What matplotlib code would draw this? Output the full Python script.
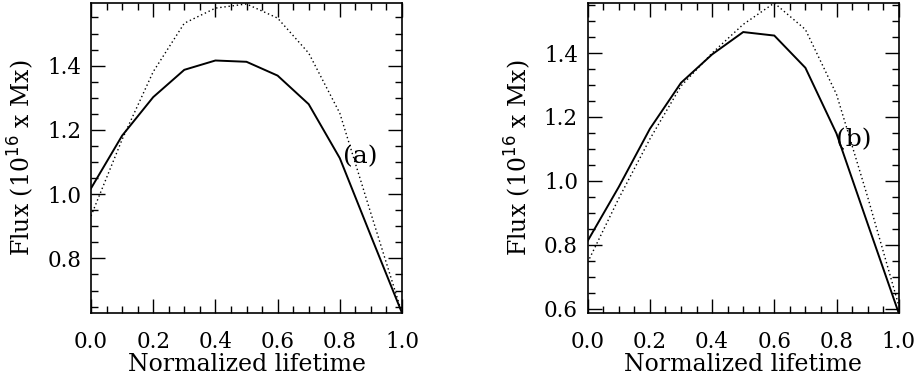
import matplotlib
matplotlib.use("Agg")
import matplotlib.pyplot as plt
from matplotlib.ticker import MultipleLocator

lifetime = [0.0, 0.1, 0.2, 0.3, 0.4, 0.5, 0.6, 0.7, 0.8, 0.9, 1.0]

a_solid = [1.018, 1.182, 1.302, 1.387, 1.416, 1.412, 1.369, 1.280, 1.112, 0.870, 0.630]
a_dotted = [0.932, 1.170, 1.381, 1.532, 1.579, 1.592, 1.548, 1.439, 1.252, 0.940, 0.630]

b_solid = [0.812, 0.981, 1.163, 1.307, 1.396, 1.466, 1.455, 1.354, 1.148, 0.866, 0.586]
b_dotted = [0.745, 0.945, 1.131, 1.297, 1.400, 1.490, 1.557, 1.474, 1.271, 0.950, 0.610]

panels = [
    dict(solid=a_solid, dotted=a_dotted, ylim=(0.630, 1.595), label="(a)",
         lab_xy=(0.81, 1.118), left=91, yticks=[0.8, 1.0, 1.2, 1.4]),
    dict(solid=b_solid, dotted=b_dotted, ylim=(0.586, 1.557), label="(b)",
         lab_xy=(0.80, 1.128), left=587.7, yticks=[0.6, 0.8, 1.0, 1.2, 1.4]),
]

W, H = 918, 385
plt.rcParams['font.family'] = ['DejaVu Serif']
fig = plt.figure(figsize=(W / 100, H / 100), dpi=100)

for p in panels:
    ax = fig.add_axes([p['left'] / W, (H - 313) / H, 311 / W, 310 / H])
    ax.plot(lifetime, p['solid'], color='black', lw=1.4, solid_joinstyle='miter')
    ax.plot(lifetime, p['dotted'], color='black', lw=1.0, linestyle=(0, (1, 2)))
    ax.set_xlim(0, 1)
    ax.set_ylim(*p['ylim'])
    ax.set_xticks([0.0, 0.2, 0.4, 0.6, 0.8, 1.0])
    ax.set_xticklabels(["0.0", "0.2", "0.4", "0.6", "0.8", "1.0"])
    ax.set_yticks(p['yticks'])
    ax.set_yticklabels([f"{v:.1f}" for v in p['yticks']])
    ax.xaxis.set_minor_locator(MultipleLocator(0.05))
    ax.yaxis.set_minor_locator(MultipleLocator(0.05))
    ax.tick_params(which='both', direction='in', top=True, right=True,
                   labelsize=15.5, width=1.0, color='black')
    ax.tick_params(which='major', length=10)
    ax.tick_params(which='minor', length=5)
    ax.tick_params(axis='x', which='major', pad=13)
    ax.tick_params(axis='y', which='major', pad=7)
    for s in ax.spines.values():
        s.set_linewidth(1.2)
    ax.set_xlabel("Normalized lifetime", fontsize=17, labelpad=0)
    ax.set_ylabel(r"Flux (10$^{16}$ x Mx)", fontsize=17, labelpad=8)
    ax.text(p['lab_xy'][0], p['lab_xy'][1], p['label'], fontsize=18,
            ha='left', va='center')

fig.savefig("out.png", dpi=100)
